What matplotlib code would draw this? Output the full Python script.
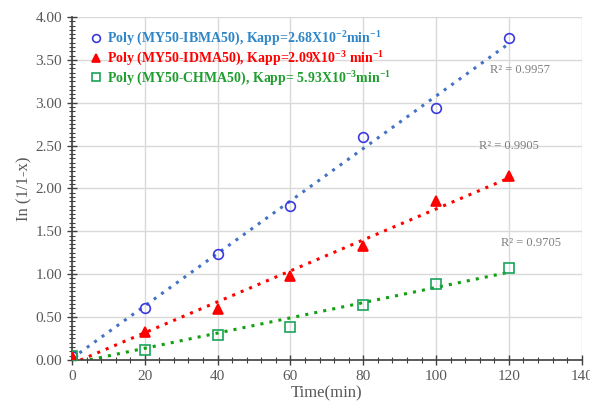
import numpy as np
import matplotlib
matplotlib.use("Agg")
import matplotlib.pyplot as plt
from matplotlib.ticker import MultipleLocator

plt.rcParams['font.family'] = ['Liberation Serif', 'DejaVu Serif']
plt.rcParams['mathtext.fontset'] = 'custom'
plt.rcParams['mathtext.rm'] = 'Liberation Serif:bold'
plt.rcParams['mathtext.default'] = 'rm'

time_min = [0, 20, 40, 60, 80, 100, 120]
ibma = [0.05, 0.60, 1.24, 1.80, 2.60, 2.94, 3.75]
idma = [0.04, 0.33, 0.59, 0.98, 1.33, 1.85, 2.15]
chma = [0.05, 0.11, 0.29, 0.38, 0.64, 0.89, 1.07]

labels = [
    r"Poly (MY50-IBMA50), Kapp=2.68X10$^{-2}$min$^{-1}$",
    r"Poly (MY50-IDMA50), Kapp=2.09X10$^{-3}$ min$^{-1}$",
    r"Poly (MY50-CHMA50), Kapp= 5.93X10$^{-3}$min$^{-1}$",
]
r2_text = ["R² = 0.9957", "R² = 0.9905", "R² = 0.9705"]
r2_pos = [(123, 3.38), (120, 2.50), (126, 1.36)]

fig = plt.figure(figsize=(5.9, 4.16), dpi=100)
ax = fig.add_axes([0.122, 0.135, 0.864, 0.824])

series = [
    (ibma, dict(marker='o', mfc='none', mec='#3a3ae0'), '#4472c4', '#2e86c8'),
    (idma, dict(marker='^', mfc='red', mec='red'), 'red', 'red'),
    (chma, dict(marker='s', mfc='none', mec='#1aa35a'), '#10a010', '#1e9e2e'),
]

x = np.array(time_min, dtype=float)
xs = np.linspace(0, 120, 200)
handles = []
for (y, mk, lc, tc), lab in zip(series, labels):
    k, b = np.polyfit(x, y, 1)
    ax.plot(xs, k * xs + b, ls=(0, (1, 2)), color=lc, lw=2.2, zorder=2)
    h, = ax.plot(x, y, ls='none', ms=7, mew=1.2, zorder=3, label=lab, **mk)
    handles.append(h)

for t, (px, py) in zip(r2_text, r2_pos):
    ax.text(px, py, t, color='#7f7f7f', fontsize=9, ha='center', va='center')

ax.set_xlim(0, 140)
ax.set_ylim(0, 4.0)
ax.xaxis.set_major_locator(MultipleLocator(20))
ax.xaxis.set_minor_locator(MultipleLocator(4))
ax.yaxis.set_major_locator(MultipleLocator(0.5))
ax.yaxis.set_minor_locator(MultipleLocator(0.05))
ax.yaxis.set_major_formatter(matplotlib.ticker.FormatStrFormatter('%.2f'))
ax.grid(True, which='major', color='#d9d9d9', lw=1)
ax.set_axisbelow(True)
for s in ['top', 'right']:
    ax.spines[s].set_visible(False)
for s in ['left', 'bottom']:
    ax.spines[s].set_color('#404040')
    ax.spines[s].set_linewidth(1.2)
ax.tick_params(which='major', direction='inout', length=7, width=1, color='#404040',
               labelsize=11, labelcolor='#595959')
ax.tick_params(which='minor', direction='inout', length=5, width=0.8, color='#404040')
ax.set_xlabel('Time(min)', fontsize=12, color='#595959', labelpad=2)
ax.set_ylabel('In (1/1-x)', fontsize=12, color='#595959', labelpad=2)

leg = ax.legend(handles=handles, loc='upper left', bbox_to_anchor=(0.025, 0.98),
                frameon=False, handlelength=0.8, handletextpad=0.4, markerscale=0.8,
                labelspacing=0.12, borderaxespad=0, prop={'weight': 'bold', 'size': 10})
for txt, (_, _, _, tc) in zip(leg.get_texts(), series):
    txt.set_color(tc)

fig.savefig('out.png', dpi=100)
